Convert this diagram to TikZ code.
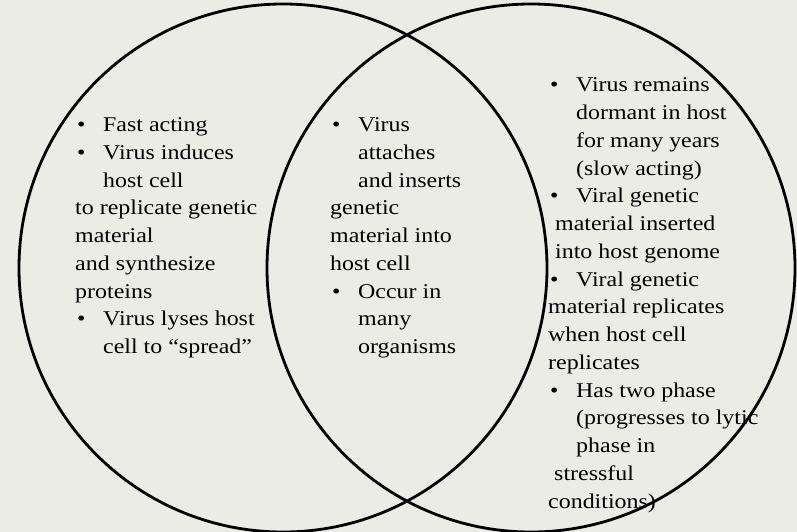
\documentclass[tikz,border=0pt]{standalone}
\usepackage{fontspec}
\setmainfont[FakeStretch=1.14]{Liberation Serif}
\definecolor{slide}{RGB}{236,236,231}
\tikzset{
  ring/.style={draw=black, line width=2.8pt},
  blurb/.style={anchor=base west, align=left, inner sep=0pt,
    font=\fontsize{21}{27.75}\selectfont},
}
\newcommand{\bul}{\makebox[28pt][l]{\hspace{2pt}\textbullet}}
\newcommand{\ind}{\hspace*{28pt}}

\begin{document}
\begin{tikzpicture}[x=1pt,y=-1pt]
      \fill[slide] (0,0) rectangle (797,532);
      \useasboundingbox (0,0) rectangle (797,532);
      \draw[ring] (283,268) circle[radius=264pt];
      \draw[ring] (531,268) circle[radius=264pt];
      % base anchor sits on the last line
      \node[blurb] (lytic) at (75,353.7) {\bul Fast acting\\
        \bul Virus induces\\
        \ind host cell\\
        to replicate genetic\\
        material\\
        and synthesize\\
        proteins\\
        \bul Virus lyses host\\
        \ind cell to ``spread''};
      \node[blurb] (both) at (330,353.7) {\bul Virus\\
        \ind attaches\\
        \ind and inserts\\
        genetic\\
        material into\\
        host cell\\
        \bul Occur in\\
        \ind many\\
        \ind organisms};
      \node[blurb] (lysogenic) at (548,508) {\bul Virus remains\\
        \ind dormant in host\\
        \ind for many years\\
        \ind (slow acting)\\
        \bul Viral genetic\\
        \hspace*{7pt}material inserted\\
        \hspace*{7pt}into host genome\\
        \bul Viral genetic\\
        material replicates\\
        when host cell\\
        replicates\\
        \bul Has two phase\\
        \ind (progresses to lytic\\
        \ind phase in\\
        \hspace*{6pt}stressful\\
        conditions)};
    \end{tikzpicture}
\end{document}
